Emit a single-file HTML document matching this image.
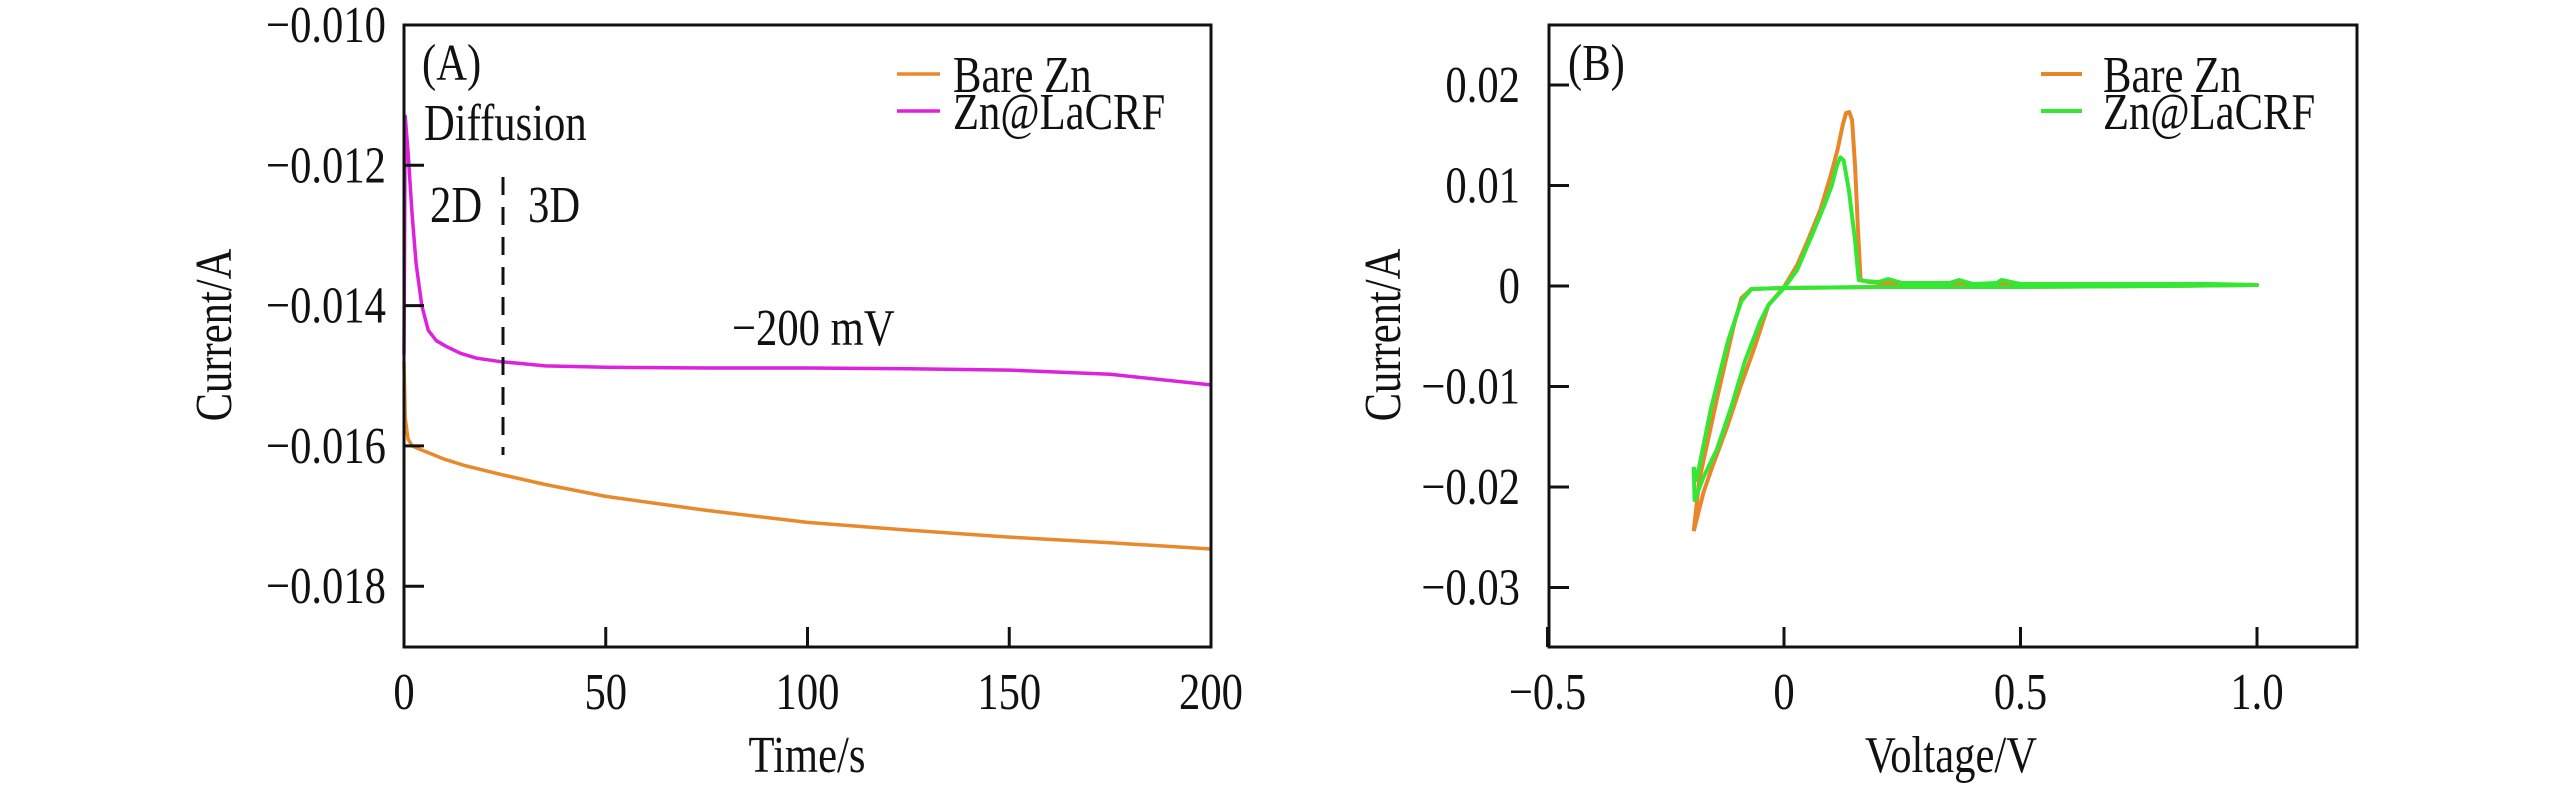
<!DOCTYPE html>
<html><head><meta charset="utf-8"><style>
html,body{margin:0;padding:0;background:#fff;}
svg{display:block;font-family:"Liberation Serif",serif;}
</style></head><body>
<svg id="fig" width="2567" height="787" viewBox="0 0 2567 787" xmlns="http://www.w3.org/2000/svg"></svg>
<script>
// ---- Panel A data (chronoamperometry) ----
const tBareA = [0,0.3,1,2,4,7,10,15,25,35,50,75,100,125,150,175,200];
const iBareA = [-0.0148,-0.0156,-0.0159,-0.0160,-0.01605,-0.01612,-0.01619,-0.01628,-0.01642,-0.01655,-0.01672,-0.01692,-0.01709,-0.0172,-0.0173,-0.01738,-0.01747];
const tLaA = [0,0.3,1,2,3,4.4,6,8,10.4,14,18,24,28,35,50,75,100,125,150,175,200];
const iLaA = [-0.0147,-0.0113,-0.0118,-0.0127,-0.0134,-0.0140,-0.01435,-0.0145,-0.01458,-0.01468,-0.01475,-0.0148,-0.01482,-0.01486,-0.01488,-0.01489,-0.01489,-0.0149,-0.01492,-0.01498,-0.01513];
const xTicksA = [0,50,100,150,200];
const yTicksA = [-0.010,-0.012,-0.014,-0.016,-0.018];
const yTickLabelsA = ["\u22120.010","\u22120.012","\u22120.014","\u22120.016","\u22120.018"];
// ---- Panel B data (CV) ----
const vBareB = [-0.191,-0.17,-0.154,-0.12,-0.094,-0.06,-0.033,0,0.028,0.05,0.077,0.10,0.113,0.124,0.131,0.138,0.144,0.150,0.156,0.162,0.18,0.2,0.25,0.3,0.4,0.5,0.6,0.75,0.9,1.0,0.8,0.5,0.2,0,-0.069,-0.09,-0.106,-0.142,-0.179,-0.191];
const iBareB = [-0.0244,-0.0205,-0.0183,-0.0140,-0.0103,-0.0058,-0.0019,-0.0001,0.0021,0.0045,0.0076,0.0112,0.0135,0.0160,0.0172,0.0173,0.0165,0.0120,0.0060,0.0006,0.0004,0.0003,0.0003,0.0002,0.0002,0.0002,0.0001,0.0001,0.0001,0.0001,0.0,-0.0001,-0.0001,-0.0002,-0.0003,-0.0012,-0.0039,-0.0113,-0.0193,-0.0244];
const vLaB = [-0.191,-0.189,-0.17,-0.142,-0.11,-0.082,-0.05,-0.033,0,0.028,0.064,0.085,0.101,0.112,0.119,0.126,0.137,0.145,0.150,0.158,0.17,0.2,0.22,0.25,0.3,0.35,0.37,0.4,0.45,0.46,0.5,0.6,0.75,0.9,1.0,0.8,0.5,0.2,0,-0.069,-0.09,-0.118,-0.155,-0.185,-0.191];
const iLaB = [-0.018,-0.0213,-0.0190,-0.0163,-0.0118,-0.0074,-0.0035,-0.0019,-0.0002,0.0016,0.0056,0.0080,0.0100,0.0120,0.0128,0.0125,0.0096,0.0065,0.0046,0.0006,0.0005,0.0004,0.0007,0.0003,0.0003,0.0003,0.0006,0.0002,0.0003,0.0006,0.0002,0.0002,0.0002,0.0002,0.0001,0.0,-0.0001,-0.0001,-0.0002,-0.0003,-0.0015,-0.0054,-0.0123,-0.0193,-0.018];
const xTicksB = [-0.5,0,0.5,1.0];
const xTickLabelsB = ["\u22120.5","0","0.5","1.0"];
const yTicksB = [0.02,0.01,0,-0.01,-0.02,-0.03];
const yTickLabelsB = ["0.02","0.01","0","\u22120.01","\u22120.02","\u22120.03"];

const NS="http://www.w3.org/2000/svg";
const svg=document.getElementById('fig');
const FS=52;
function mk(tag,attrs){const e=document.createElementNS(NS,tag);for(const k in attrs)e.setAttribute(k,attrs[k]);svg.appendChild(e);return e;}
function txt(x,y,s,anchor,size,rot){
  const e=mk('text',{x:0,y:0,'font-size':size,'text-anchor':anchor,fill:'#111',
    transform:'translate('+x+','+y+')'+(rot?' rotate(-90)':'')+' scale(0.82,1)'});
  e.textContent=s;return e;}

// scales
const A={l:404,r:1211,t:25,b:647};
const xA=t=>A.l+t/200*(A.r-A.l);
const yA=v=>25+(-0.010-v)/0.002*140.3;
const B={l:1549,r:2357,t:25,b:647};
const xB=v=>1784+v*473;
const yB=i=>286-i/0.01*100.5;
function pts(xs,ys,fx,fy){return xs.map((x,k)=>fx(x).toFixed(1)+','+fy(ys[k]).toFixed(1)).join(' ');}

// ---- Panel A ----
let e;
e=mk('polyline',{points:pts(tBareA,iBareA,xA,yA),fill:'none',stroke:'#E8892C','stroke-width':3.5,'stroke-linejoin':'round'});


e=mk('polyline',{points:pts(tLaA,iLaA,xA,yA),fill:'none',stroke:'#DD22DD','stroke-width':3.5,'stroke-linejoin':'round'});


e=mk('line',{x1:503,y1:177,x2:503,y2:455,stroke:'#111','stroke-width':3,'stroke-dasharray':'18,12'});


e=mk('rect',{x:A.l,y:A.t,width:A.r-A.l,height:A.b-A.t,fill:'none',stroke:'#111','stroke-width':3});


xTicksA.forEach((t,k)=>{
  mk('line',{x1:xA(t),y1:A.b,x2:xA(t),y2:A.b-20,stroke:'#111','stroke-width':3});
  e=txt(xA(t),709,String(t),'middle',FS);
  
  
});
yTicksA.forEach((v,k)=>{
  mk('line',{x1:A.l,y1:yA(v),x2:A.l+20,y2:yA(v),stroke:'#111','stroke-width':3});
  e=txt(386,yA(v)+17,yTickLabelsA[k],'end',FS);
  
  
});
e=txt(807,772,'Time/s','middle',FS);
e=txt(231,335,'Current/A','middle',FS,true);
e=txt(422,80,'(A)','start',FS);
e=txt(424,140,'Diffusion','start',FS);
e=txt(430,222,'2D','start',FS);
e=txt(528,222,'3D','start',FS);
e=txt(732,345,'\u2212200 mV','start',FS);
mk('line',{x1:897,y1:74,x2:940,y2:74,stroke:'#E8892C','stroke-width':3.5});
e=txt(953,92,'Bare Zn','start',FS);
mk('line',{x1:897,y1:111,x2:940,y2:111,stroke:'#DD22DD','stroke-width':3.5});
e=txt(953,129,'Zn@LaCRF','start',FS);

// ---- Panel B ----
e=mk('polyline',{points:pts(vBareB,iBareB,xB,yB),fill:'none',stroke:'#E8862A','stroke-width':4,'stroke-linejoin':'round'});


e=mk('polyline',{points:pts(vLaB,iLaB,xB,yB),fill:'none',stroke:'#33E833','stroke-width':4,'stroke-linejoin':'round'});


e=mk('rect',{x:B.l,y:B.t,width:B.r-B.l,height:B.b-B.t,fill:'none',stroke:'#111','stroke-width':3});


xTicksB.forEach((v,k)=>{
  mk('line',{x1:xB(v),y1:B.b,x2:xB(v),y2:B.b-20,stroke:'#111','stroke-width':3});
  e=txt(xB(v),709,xTickLabelsB[k],'middle',FS);
  
  
});
yTicksB.forEach((v,k)=>{
  mk('line',{x1:B.l,y1:yB(v),x2:B.l+20,y2:yB(v),stroke:'#111','stroke-width':3});
  e=txt(1520,yB(v)+17,yTickLabelsB[k],'end',FS);
  
  
});
e=txt(1951,772,'Voltage/V','middle',FS);
e=txt(1400,335,'Current/A','middle',FS,true);
e=txt(1568,80,'(B)','start',FS);
mk('line',{x1:2041,y1:74,x2:2082,y2:74,stroke:'#E8862A','stroke-width':4});
e=txt(2103,92,'Bare Zn','start',FS);
mk('line',{x1:2041,y1:111,x2:2082,y2:111,stroke:'#33E833','stroke-width':4});
e=txt(2103,129,'Zn@LaCRF','start',FS);
</script>
</body></html>
